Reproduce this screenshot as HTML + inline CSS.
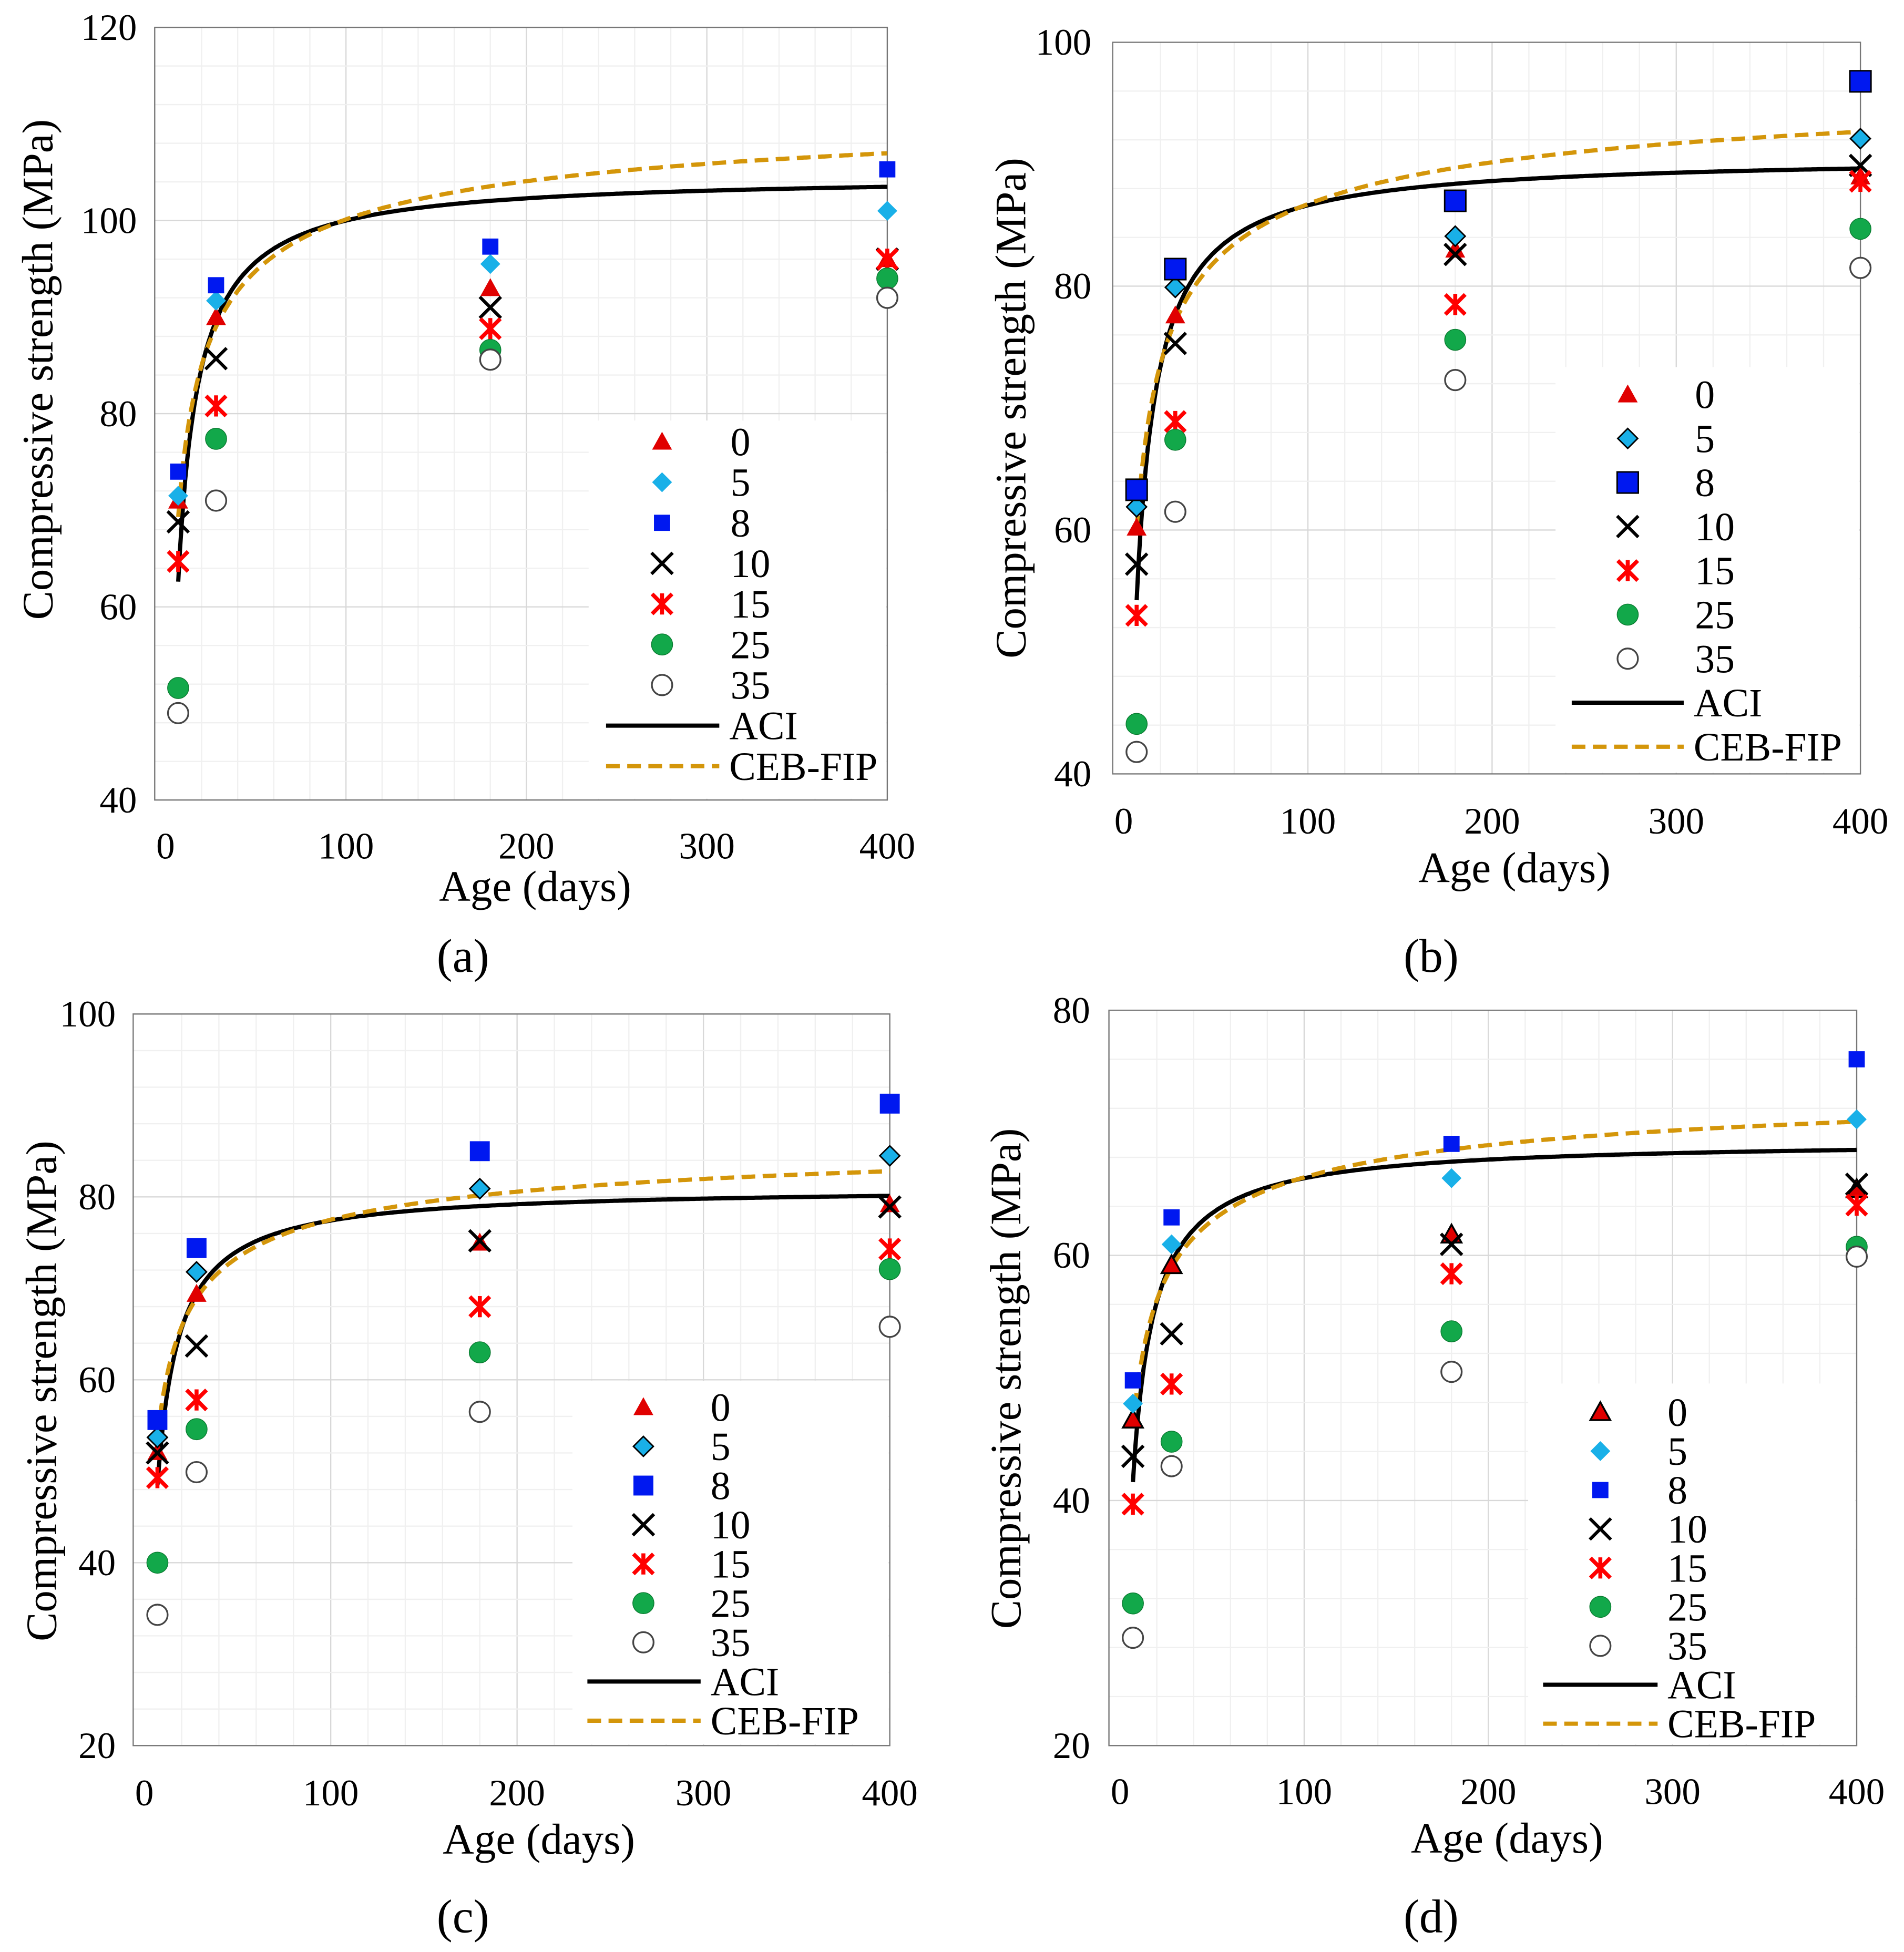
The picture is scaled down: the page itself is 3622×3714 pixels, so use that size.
<!DOCTYPE html>
<html><head><meta charset="utf-8"><style>
html,body{margin:0;padding:0;background:#fff}
svg{display:block}
text{font-family:"Liberation Serif",serif;fill:#000}
</style></head><body>
<svg id="fig" xmlns="http://www.w3.org/2000/svg" width="3622" height="3714" viewBox="0 0 1530 1568.9">
<rect width="1530" height="1569" fill="#fff"/>
</svg>
<script>
const ages = [7, 28, 180, 400];
const seriesNames = ["0","5","8","10","15","25","35"];
const aVals = [[71,90,93,96],[71.5,91.7,95.5,101],[74,93.3,97.3,105.3],[68.8,85.7,91,96],[64.7,80.8,88.8,96],[51.6,77.4,86.6,94],[49,71,85.6,92]];
const bVals = [[60.2,77.6,83,89],[61.9,79.9,84.1,92.1],[63.3,81.4,87,96.8],[57.2,75.3,82.6,89.9],[53,68.9,78.5,88.6],[44.1,67.4,75.6,84.7],[41.8,61.5,72.3,81.5]];
const cVals = [[52.1,69.4,75,79.2],[53.7,71.8,80.9,84.5],[55.6,74.4,85,90.2],[52,63.7,75.2,78.9],[49.3,57.8,68,74.3],[40,54.6,63,72.1],[34.3,49.9,56.5,65.8]];
const dVals = [[46.6,59.2,61.7,65.4],[47.9,60.9,66.3,71.1],[49.8,63.1,69.1,76],[43.6,53.6,60.9,65.8],[39.7,49.5,58.5,64.1],[31.6,44.8,53.8,60.7],[28.8,42.8,50.5,59.9]];
const fc28 = [89, 77.1, 68.9, 59];
const xTicks = [0,100,200,300,400];
const aYTicks = [40,60,80,100,120];
const bYTicks = [40,60,80,100];
const cYTicks = [20,40,60,80,100];
const dYTicks = [20,40,60,80];

const NS="http://www.w3.org/2000/svg";
const svg=document.getElementById('fig');
function mk(tag,attrs,parent){const e=document.createElementNS(NS,tag);for(const k in attrs)e.setAttribute(k,attrs[k]);(parent||svg).appendChild(e);return e;}

const panels=[
 {id:'a',vals:aVals,yt:aYTicks,x0:133,x400:713,ymin:40,ymax:120,yTop:22,yBot:643,leg:{mx:532,lx:587,r0:355,dr:32.6,l1:487,l2:578,bx:473,by:338},ytx:110,xty:680,yTitle:[30,297],xTitle:[430,712],lab:[372,768],
  st:{tri:'none',dia:'none',sq:'none',sqs:13}},
 {id:'b',vals:bVals,yt:bYTicks,x0:903,x400:1495,ymin:40,ymax:100,yTop:34,yBot:622,leg:{mx:1308,lx:1362,r0:317,dr:35.4,l1:1263,l2:1353,bx:1250,by:295},ytx:877,xty:660,yTitle:[812,328],xTitle:[1217,697],lab:[1150,768],
  st:{tri:'none',dia:'#000',sq:'#000',sqs:17}},
 {id:'c',vals:cVals,yt:cYTicks,x0:116,x400:715,ymin:20,ymax:100,yTop:815,yBot:1403,leg:{mx:517,lx:571,r0:1131,dr:31.5,l1:472,l2:563,bx:460,by:1110},ytx:93,xty:1441,yTitle:[33,1118],xTitle:[433,1478],lab:[372,1540],
  st:{tri:'none',dia:'#000',sq:'none',sqs:16}},
 {id:'d',vals:dVals,yt:dYTicks,x0:900,x400:1492,ymin:20,ymax:80,yTop:812,yBot:1403,leg:{mx:1286,lx:1340,r0:1135,dr:31.3,l1:1240,l2:1332,bx:1228,by:1112},ytx:876,xty:1440,yTitle:[808,1108],xTitle:[1211,1477],lab:[1150,1540],
  st:{tri:'#000',dia:'none',sq:'none',sqs:13}}
];

function marker(g,k,x,y,st){
 const s=8;
 if(k===0){mk('polygon',{points:`${x},${y-s} ${x+s},${y+s*0.8} ${x-s},${y+s*0.8}`,fill:'#e00000',stroke:st.tri==='none'?'none':st.tri,'stroke-width':1.5},g);}
 else if(k===1){mk('polygon',{points:`${x},${y-8} ${x+8},${y} ${x},${y+8} ${x-8},${y}`,fill:'#19b0e8',stroke:st.dia==='none'?'none':st.dia,'stroke-width':1.2},g);}
 else if(k===2){const h=st.sqs/2;mk('rect',{x:x-h,y:y-h,width:st.sqs,height:st.sqs,fill:'#0018f0',stroke:st.sq==='none'?'none':st.sq,'stroke-width':1.2},g);}
 else if(k===3){mk('path',{d:`M${x-8.5} ${y-8.5}L${x+8.5} ${y+8.5}M${x+8.5} ${y-8.5}L${x-8.5} ${y+8.5}`,stroke:'#000','stroke-width':2.6,fill:'none'},g);}
 else if(k===4){mk('path',{d:`M${x-8} ${y-8}L${x+8} ${y+8}M${x+8} ${y-8}L${x-8} ${y+8}M${x} ${y-8.5}L${x} ${y+8.5}`,stroke:'#ff0000','stroke-width':3.2,fill:'none'},g);}
 else if(k===5){mk('circle',{cx:x,cy:y,r:8.5,fill:'#12a84a',stroke:'#0a7a30','stroke-width':0.6},g);}
 else {mk('circle',{cx:x,cy:y,r:8.2,fill:'#fff',stroke:'#444','stroke-width':1.4},g);}
}

panels.forEach((p,pi)=>{
 const g=mk('g',{});
 
 
 const sx=d=>p.x0+(p.x400-p.x0)*d/400;
 const sy=v=>p.yBot-(p.yBot-p.yTop)*(v-p.ymin)/(p.ymax-p.ymin);
 const left=sx(-6), right=sx(400);
 for(let d=20;d<400;d+=20){mk('line',{x1:sx(d),x2:sx(d),y1:p.yTop,y2:p.yBot,stroke:d%100===0?'#d8d8d8':'#f0f0f0','stroke-width':1},g);}
 for(let v=p.ymin+4;v<p.ymax;v+=4){mk('line',{x1:left,x2:right,y1:sy(v),y2:sy(v),stroke:(v-p.ymin)%20===0?'#d8d8d8':'#f0f0f0','stroke-width':1},g);}
 mk('rect',{x:left,y:p.yTop,width:right-left,height:p.yBot-p.yTop,fill:'none',stroke:'#777','stroke-width':1},g);
 const yax=mk('g',{},g);
 
 
 p.yt.forEach(v=>{const t=mk('text',{x:p.ytx,y:sy(v)+10,'font-size':30,'text-anchor':'end'},yax);t.textContent=v;});
 const xax=mk('g',{},g);
 
 
 xTicks.forEach(d=>{const t=mk('text',{x:sx(d),y:p.xty+10,'font-size':30,'text-anchor':'middle'},xax);t.textContent=d;});
 const yt=mk('text',{x:p.yTitle[0],y:p.yTitle[1],'font-size':35,'text-anchor':'middle',transform:`rotate(-90 ${p.yTitle[0]} ${p.yTitle[1]})`,dy:12},g);
 yt.textContent='Compressive strength (MPa)';
 
 
 const xt=mk('text',{x:p.xTitle[0],y:p.xTitle[1]+12,'font-size':35,'text-anchor':'middle'},g);
 xt.textContent='Age (days)';
 
 
 const lb=mk('text',{x:p.lab[0],y:p.lab[1]+13,'font-size':38,'text-anchor':'middle'},g);
 lb.textContent='('+p.id+')';
 
 
 const L=p.leg;
 mk('rect',{x:L.bx,y:L.by,width:right-L.bx-1,height:p.yBot-L.by-1,fill:'#fff'},g);
 const f=fc28[pi];
 let aci='',ceb='';
 for(let t=7;t<=400;t+=1){
  const va=f*t/(4+0.85*t), vc=f*Math.exp(0.25*(1-Math.sqrt(28/t)));
  aci+=(t===7?'M':'L')+sx(t).toFixed(1)+' '+sy(va).toFixed(1);
  ceb+=(t===7?'M':'L')+sx(t).toFixed(1)+' '+sy(vc).toFixed(1);
 }
 const c1=mk('path',{d:aci,fill:'none',stroke:'#000','stroke-width':3.4},g);
 
 
 const c2=mk('path',{d:ceb,fill:'none',stroke:'#d4960a','stroke-width':3.4,'stroke-dasharray':'11 6'},g);
 
 
 p.vals.forEach((arr,k)=>{
  const sg=mk('g',{},g);
  
  
  arr.forEach((v,i)=>marker(sg,k,sx(ages[i]),sy(v),p.st));
 });
 const lg=mk('g',{},g);
 
 
 seriesNames.forEach((n,k)=>{
  const y=L.r0+k*L.dr;
  marker(lg,k,L.mx,y,p.st);
  const t=mk('text',{x:L.lx,y:y+11,'font-size':32},lg);t.textContent=n;
 });
 const ya=L.r0+7*L.dr, yc=L.r0+8*L.dr;
 mk('line',{x1:L.l1,x2:L.l2,y1:ya,y2:ya,stroke:'#000','stroke-width':3.4},lg);
 let t=mk('text',{x:L.l2+8,y:ya+11,'font-size':32},lg);t.textContent='ACI';
 mk('line',{x1:L.l1,x2:L.l2,y1:yc,y2:yc,stroke:'#d4960a','stroke-width':3.4,'stroke-dasharray':'11 6'},lg);
 t=mk('text',{x:L.l2+8,y:yc+11,'font-size':32},lg);t.textContent='CEB-FIP';
});
</script>
</body></html>
